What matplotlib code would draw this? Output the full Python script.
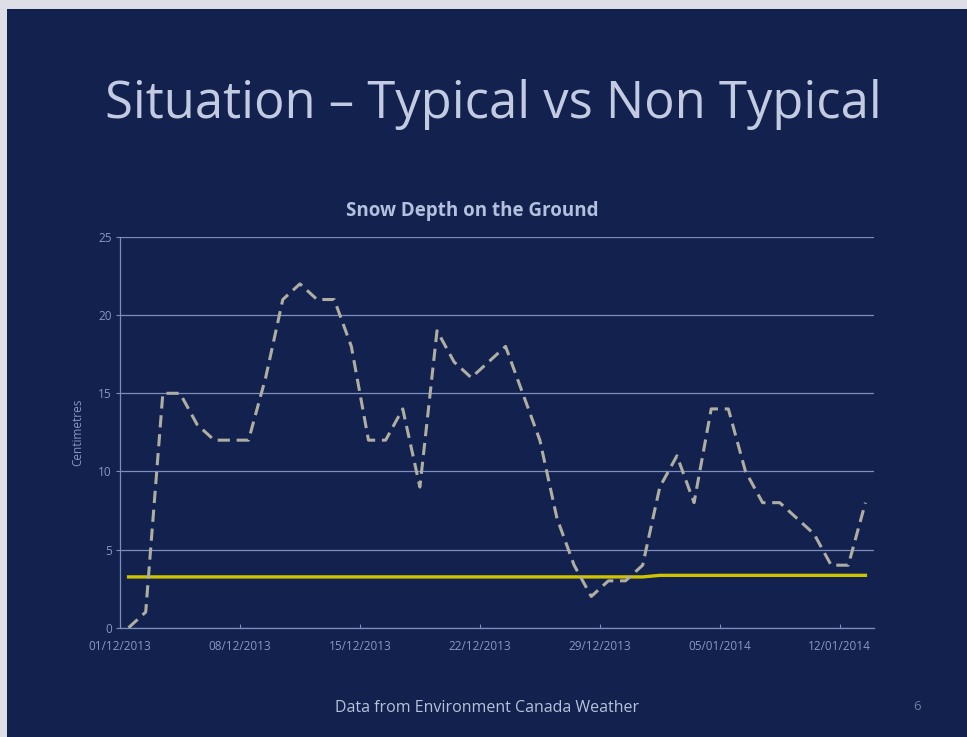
import numpy as np
import matplotlib
matplotlib.use("Agg")
import matplotlib.pyplot as plt
from matplotlib.patches import Rectangle

# snow depth per day, 01/12/2013 .. 13/01/2014 (cm)
depth_2013 = [0, 1, 15, 15, 13, 12, 12, 12, 16, 21, 22, 21, 21, 18, 12, 12,
              14, 9, 19, 17, 16, 17, 18, 15, 12, 7, 4, 2, 3, 3, 4, 9,
              11, 8, 14, 14, 10, 8, 8, 7, 6, 4, 4, 8]
# typical (average) depth, same days
typical = [3.25] * 31 + [3.35] * 13

tick_days = [0, 7, 14, 21, 28, 35, 42]
tick_labels = ["01/12/2013", "08/12/2013", "15/12/2013", "22/12/2013",
               "29/12/2013", "05/01/2014", "12/01/2014"]
y_ticks = [0, 5, 10, 15, 20, 25]

bg = "#12214d"
grid_col = "#7d8dbd"
txt_col = "#8898c4"

fig = plt.figure(figsize=(9.67, 7.37), dpi=100)
fig.patch.set_facecolor("#dedfe6")
# the slide itself, with a thin light border at top and left
fig.add_artist(Rectangle((7 / 967, 0), 1, 1 - 9 / 737, transform=fig.transFigure,
                         facecolor=bg, edgecolor="none", zorder=0))

ax = fig.add_axes([120 / 967, 1 - 627.7 / 737, 754 / 967, 390.7 / 737])
ax.set_facecolor("none")

days = np.arange(len(depth_2013)) + 0.5
ax.plot(days, depth_2013, color="#aeaea2", lw=2.2, dashes=(4, 2.2),
        solid_capstyle="butt", zorder=3)
ax.plot(days, typical, color="#cfc400", lw=2.4, zorder=2)

ax.set_xlim(0, len(depth_2013))
ax.set_ylim(0, 25)
ax.set_yticks(y_ticks)
ax.set_xticks(tick_days)
ax.set_xticklabels(tick_labels)
ax.grid(axis="y", color=grid_col, lw=0.9)
ax.set_axisbelow(True)
for s in ["top", "right"]:
    ax.spines[s].set_visible(False)
ax.spines["left"].set_color(grid_col)
ax.spines["left"].set_linewidth(0.9)
ax.spines["bottom"].set_color(grid_col)
ax.spines["bottom"].set_linewidth(0.9)
ax.tick_params(axis="y", length=3, color=grid_col, labelcolor=txt_col,
               labelsize=8.5, pad=3)
ax.tick_params(axis="x", length=3, direction="in", color=grid_col,
               labelcolor=txt_col, labelsize=8.5, pad=9)
for lab in ax.get_xticklabels() + ax.get_yticklabels():
    lab.set_family("Open Sans")

ax.set_ylabel("Centimetres", color=txt_col, fontsize=8.5, family="Open Sans",
              labelpad=10)

fig.text(493 / 967, 1 - 105 / 737, "Situation \u2013 Typical vs Non Typical",
         ha="center", va="center", color="#c3cbe3", fontsize=36.5,
         family="Open Sans")
fig.text(472 / 967, 1 - 211 / 737, "Snow Depth on the Ground", ha="center",
         va="center", color="#b4c0df", fontsize=13.5, fontweight="bold",
         family="Open Sans")
fig.text(487 / 967, 1 - 708 / 737, "Data from Environment Canada Weather",
         ha="center", va="center", color="#b8c2dc", fontsize=11.5,
         family="Open Sans")
fig.text(917 / 967, 1 - 707 / 737, "6", ha="center", va="center",
         color="#6f7ca3", fontsize=9.5, family="Open Sans")

fig.savefig("out.png", dpi=100, facecolor=fig.get_facecolor())
